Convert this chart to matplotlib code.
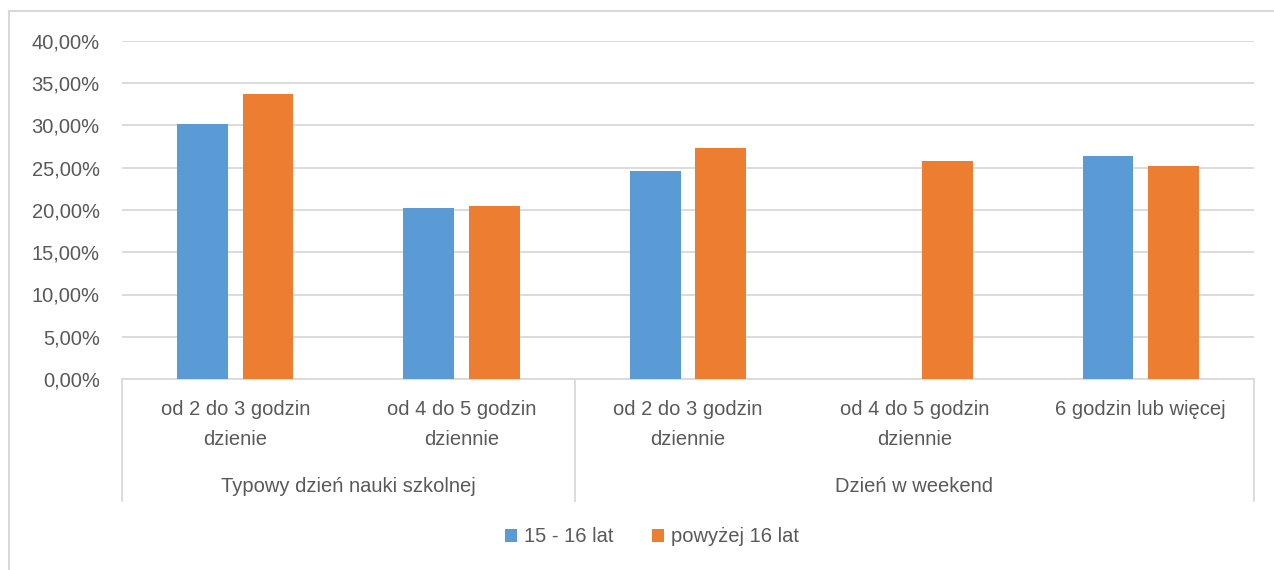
import numpy as np
import matplotlib.pyplot as plt
from matplotlib.ticker import FuncFormatter, MultipleLocator
from matplotlib.lines import Line2D
from matplotlib.transforms import blended_transform_factory

# data (percent)
categories = ['od 2 do 3 godzin\ndzienie', 'od 4 do 5 godzin\ndziennie',
              'od 2 do 3 godzin\ndziennie', 'od 4 do 5 godzin\ndziennie',
              '6 godzin lub więcej']
groups = ['Typowy dzień nauki szkolnej', 'Dzień w weekend']
group_sizes = [2, 3]
series_names = ['15 - 16 lat', 'powyżej 16 lat']
vals_15_16 = [30.2, 20.2, 24.6, 0.0, 26.4]
vals_over16 = [33.7, 20.5, 27.3, 25.8, 25.2]

blue = '#5B9BD5'
orange = '#ED7D31'
grid_col = '#D9D9D9'
text_col = '#595959'
fs = 14.5

plt.rcParams['font.family'] = ['Liberation Sans', 'DejaVu Sans']

fig = plt.figure(figsize=(12.74, 5.70), dpi=100)
ax = fig.add_axes([122 / 1274, 1 - 379 / 570, (1254 - 122) / 1274, (379 - 41) / 570])

x = np.arange(len(categories))
w = 0.225
ax.bar(x - 0.145, vals_15_16, w, color=blue, linewidth=0, label=series_names[0], zorder=3)
ax.bar(x + 0.145, vals_over16, w, color=orange, linewidth=0, label=series_names[1], zorder=3)

ax.set_xlim(-0.5, len(categories) - 0.5)
ax.set_ylim(0, 40)
ax.yaxis.set_major_locator(MultipleLocator(5))
ax.yaxis.set_major_formatter(FuncFormatter(lambda v, p: f'{v:.2f}'.replace('.', ',') + '%'))
ax.grid(axis='y', color=grid_col, linewidth=1.3, zorder=0)

for s in ['top', 'right', 'left']:
    ax.spines[s].set_visible(False)
ax.spines['bottom'].set_color(grid_col)
ax.spines['bottom'].set_linewidth(1.3)

ax.tick_params(axis='y', length=0, labelsize=fs, labelcolor=text_col, pad=16)
ax.set_xticks(x)
ax.set_xticklabels(categories, linespacing=1.75)
ax.tick_params(axis='x', length=0, labelsize=fs, labelcolor=text_col, pad=15)

# separators of the two-level category axis
trans = blended_transform_factory(ax.transData, ax.transAxes)
edges = np.concatenate([[0], np.cumsum(group_sizes)]) - 0.5
for e in edges:
    ax.add_line(Line2D([e, e], [0, -0.36], transform=trans, color=grid_col,
                       linewidth=1.3, clip_on=False))
for i, g in enumerate(groups):
    mid = (edges[i] + edges[i + 1]) / 2
    ax.text(mid, -0.317, g, transform=trans, ha='center', va='center',
            fontsize=fs, color=text_col)

fig.legend(loc='center', bbox_to_anchor=(0.512, 1 - 537 / 570), ncol=2, frameon=False,
           handlelength=0.6, handleheight=0.6, handletextpad=0.35, columnspacing=1.9,
           fontsize=fs, labelcolor=text_col)

# outer chart frame (left and top edges visible)
fig.add_artist(Line2D([9 / 1274, 9 / 1274], [0, 1 - 11 / 570], transform=fig.transFigure,
                      color=grid_col, linewidth=1.5))
fig.add_artist(Line2D([9 / 1274, 1], [1 - 11 / 570, 1 - 11 / 570], transform=fig.transFigure,
                      color=grid_col, linewidth=1.5))

fig.savefig('out.png', dpi=100)
